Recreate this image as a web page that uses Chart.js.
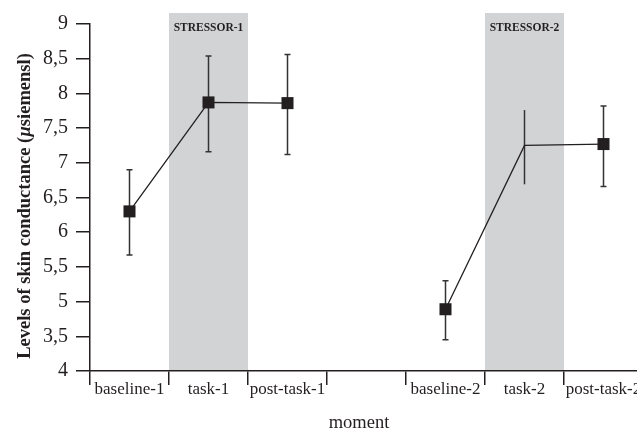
<!DOCTYPE html>
<html>
<head>
<meta charset="utf-8">
<script src="https://cdn.jsdelivr.net/npm/chart.js@4/dist/chart.umd.min.js"></script>
<style>
  html, body { margin: 0; padding: 0; background: #ffffff; }
  #wrap { width: 637px; height: 431px; overflow: hidden; }
</style>
</head>
<body>
<div id="wrap"><canvas id="c" width="637" height="431"></canvas></div>
<script>
// ---- data ----
const categories = ['baseline-1', 'task-1', 'post-task-1', '', 'baseline-2', 'task-2', 'post-task-2'];
const meanValues = [6.30, 7.87, 7.86, null, 4.89, 7.25, 7.27];
const errUpper   = [6.90, 8.54, 8.56, null, 5.30, 7.76, 7.82];
const errLower   = [5.67, 7.16, 7.12, null, 4.45, 6.69, 6.66];
const yTickLabels = ['4', '3,5', '5', '5,5', '6', '6,5', '7', '7,5', '8', '8,5', '9'];
const stressorCategories = ['task-1', 'task-2'];
const stressorLabels = ['STRESSOR-1', 'STRESSOR-2'];
const xTitle = 'moment';
const yTitleParts = [['Levels of skin conductance (', false], ['\u00b5', true], ['siemensl)', false]];

const SERIF = '"Liberation Serif", "DejaVu Serif", serif';
const INK = '#231f20';

// the plot area of the reference runs a few pixels past the right edge (last label clipped)
const extendPlugin = {
  id: 'extendRight',
  afterLayout(chart) {
    const x = chart.scales.x;
    const newRight = chart.width + 6;
    x.right = newRight;
    x.width = newRight - x.left;
    x.configure();
    chart.chartArea.right = newRight;
    chart.chartArea.width = newRight - chart.chartArea.left;
  }
};

const bandsPlugin = {
  id: 'bands',
  beforeDraw(chart) {
    const { ctx, chartArea, scales } = chart;
    const x = scales.x;
    const half = (x.getPixelForValue(1) - x.getPixelForValue(0)) / 2;
    ctx.save();
    stressorCategories.forEach((cat, i) => {
      const idx = categories.indexOf(cat);
      const cx = x.getPixelForValue(idx);
      const top = chartArea.top - 11;
      ctx.fillStyle = '#d2d3d5';
      ctx.fillRect(cx - half, top, half * 2, chartArea.bottom - top);
      ctx.fillStyle = INK;
      ctx.font = 'bold 11.5px ' + SERIF;
      ctx.textAlign = 'center';
      ctx.textBaseline = 'middle';
      ctx.fillText(stressorLabels[i], cx, chartArea.top + 4);
    });
    ctx.restore();
  }
};

const errorBarsPlugin = {
  id: 'errorBars',
  beforeDatasetsDraw(chart) {
    const { ctx, scales } = chart;
    ctx.save();
    ctx.strokeStyle = '#333333';
    ctx.lineWidth = 1.5;
    meanValues.forEach((v, i) => {
      if (v === null) return;
      const px = scales.x.getPixelForValue(i);
      const yt = scales.y.getPixelForValue(errUpper[i]);
      const yb = scales.y.getPixelForValue(errLower[i]);
      ctx.beginPath();
      ctx.moveTo(px, yt); ctx.lineTo(px, yb);
      if (categories[i] !== 'task-2') {
        ctx.moveTo(px - 3, yt); ctx.lineTo(px + 3, yt);
        ctx.moveTo(px - 3, yb); ctx.lineTo(px + 3, yb);
      }
      ctx.stroke();
    });
    ctx.restore();
  }
};

const titlesPlugin = {
  id: 'titles',
  afterDraw(chart) {
    const { ctx } = chart;
    ctx.save();
    ctx.fillStyle = INK;
    // x title
    ctx.font = '18.5px ' + SERIF;
    ctx.textAlign = 'center';
    ctx.textBaseline = 'alphabetic';
    ctx.fillText(xTitle, 359, 428);
    // y title (rotated, with italic mu)
    ctx.translate(30, 206);
    ctx.rotate(-Math.PI / 2);
    const fonts = yTitleParts.map(p => (p[1] ? 'italic bold 18.5px ' : 'bold 18.5px ') + SERIF);
    let total = 0;
    const widths = yTitleParts.map((p, i) => { ctx.font = fonts[i]; const w = ctx.measureText(p[0]).width; total += w; return w; });
    let xx = -total / 2;
    ctx.textAlign = 'left';
    yTitleParts.forEach((p, i) => { ctx.font = fonts[i]; ctx.fillText(p[0], xx, 0); xx += widths[i]; });
    ctx.restore();
  }
};

new Chart(document.getElementById('c'), {
  type: 'line',
  data: {
    labels: categories,
    datasets: [{
      data: meanValues,
      borderColor: INK,
      borderWidth: 1.3,
      tension: 0,
      spanGaps: false,
      pointStyle: 'rect',
      pointRadius: ctx => (categories[ctx.dataIndex] === 'task-2' ? 0 : 8.5),
      pointHoverRadius: ctx => (categories[ctx.dataIndex] === 'task-2' ? 0 : 8.5),
      pointBackgroundColor: INK,
      pointBorderWidth: 0,
      clip: false
    }]
  },
  options: {
    responsive: false,
    animation: false,
    events: [],
    layout: { autoPadding: false, padding: { top: 24, left: 0, right: 0, bottom: 0 } },
    plugins: { legend: { display: false }, tooltip: { enabled: false } },
    scales: {
      x: {
        type: 'category',
        offset: true,
        afterFit(s) { s.height = 60; },
        grid: { offset: true, drawOnChartArea: false, drawTicks: true, tickLength: 14, color: INK, lineWidth: 1.5 },
        border: { display: true, color: INK, width: 1.5 },
        ticks: { color: INK, font: { family: SERIF, size: 17 }, padding: -6, maxRotation: 0, autoSkip: false }
      },
      y: {
        min: 4, max: 9,
        afterFit(s) { s.width = 90; },
        afterBuildTicks(s) {
          s.ticks = yTickLabels.map((_, i) => ({ value: 4 + i * 0.5 }));
        },
        grid: { drawOnChartArea: false, drawTicks: true, tickLength: 14, color: INK, lineWidth: 1.5 },
        border: { display: true, color: INK, width: 1.5 },
        ticks: {
          color: INK,
          font: { family: SERIF, size: 20 },
          padding: 8,
          callback: (val, i) => yTickLabels[i]
        }
      }
    }
  },
  plugins: [extendPlugin, bandsPlugin, errorBarsPlugin, titlesPlugin]
});
</script>
</body>
</html>
